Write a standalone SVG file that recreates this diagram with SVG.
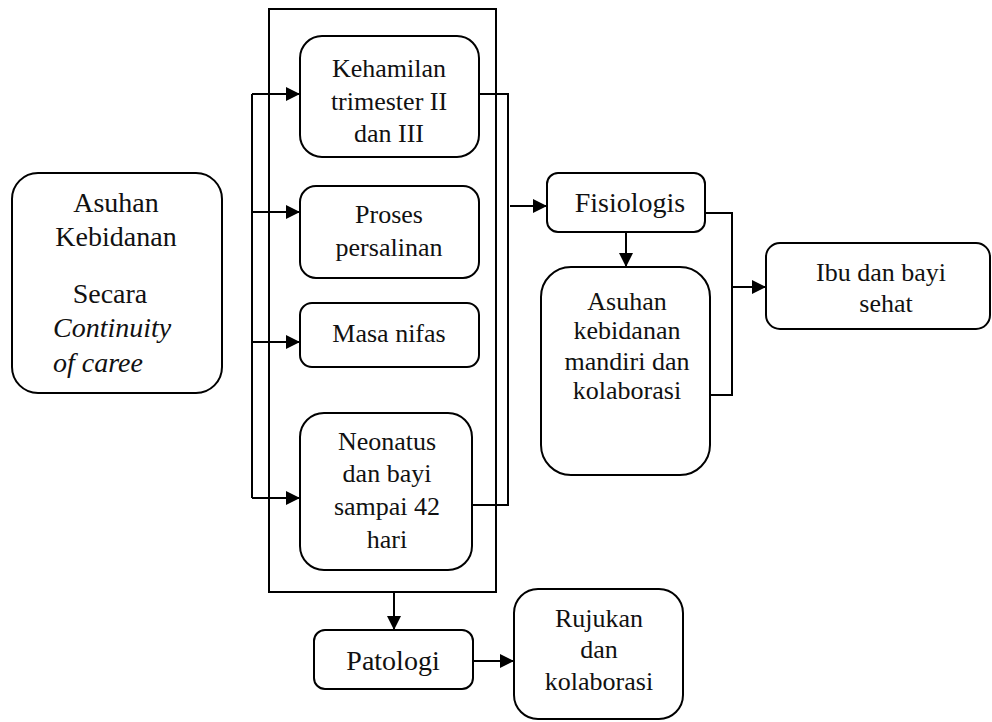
<svg xmlns="http://www.w3.org/2000/svg" width="992" height="722" viewBox="0 0 992 722">
<style>
.box{fill:#fff;stroke:#000;stroke-width:2}
.ln{fill:none;stroke:#000;stroke-width:2}
.t26{font-size:26px}
.t28{font-size:28px}
.it{font-style:italic;text-anchor:start}
</style>
<defs>
<marker id="ah" viewBox="0 0 14 14" refX="14" refY="7" markerWidth="14" markerHeight="14" markerUnits="userSpaceOnUse" orient="auto">
<path d="M0,0 L14,7 L0,14 Z" fill="#000"/>
</marker>
</defs>
<rect width="992" height="722" fill="#fff"/>
<g id="frame"><rect class="ln" x="269" y="9" width="227" height="583"/></g>
<g id="connectors">
<path class="ln" d="M252,498 V94"/>
<path class="ln" d="M252,94 H300" marker-end="url(#ah)"/>
<path class="ln" d="M252,212 H300" marker-end="url(#ah)"/>
<path class="ln" d="M252,342 H300" marker-end="url(#ah)"/>
<path class="ln" d="M252,498 H300" marker-end="url(#ah)"/>
<path class="ln" d="M479,94 H508 V505 H472"/>
<path class="ln" d="M510,206 H547" marker-end="url(#ah)"/>
<path class="ln" d="M626,232 V267" marker-end="url(#ah)"/>
<path class="ln" d="M705,213 H732 V395 H710"/>
<path class="ln" d="M732,287 H766" marker-end="url(#ah)"/>
<path class="ln" d="M394,592 V630" marker-end="url(#ah)"/>
<path class="ln" d="M473,661 H514" marker-end="url(#ah)"/>
</g>
<g font-family="Liberation Serif, Tinos, Times New Roman, serif" fill="#111" text-anchor="middle">
<g id="asuhan">
<rect class="box" x="12" y="173" width="210" height="220" rx="26"/>
<text class="t28" x="116" y="212">Asuhan</text>
<text class="t28" x="116" y="246">Kebidanan</text>
<text class="t28" x="110" y="303">Secara</text>
<text class="t28 it" x="53" y="337">Continuity</text>
<text class="t28 it" x="53" y="372">of caree</text>
</g>
<g id="kehamilan">
<rect class="box" x="300" y="36" width="179" height="121" rx="22"/>
<text class="t26" x="389" y="77">Kehamilan</text>
<text class="t26" x="389" y="110">trimester II</text>
<text class="t26" x="389" y="142">dan III</text>
</g>
<g id="proses">
<rect class="box" x="300" y="186" width="179" height="92" rx="16"/>
<text class="t26" x="389" y="223">Proses</text>
<text class="t26" x="389" y="256">persalinan</text>
</g>
<g id="nifas">
<rect class="box" x="300" y="303" width="179" height="64" rx="12"/>
<text class="t26" x="389" y="342">Masa nifas</text>
</g>
<g id="neonatus">
<rect class="box" x="300" y="413" width="172" height="157" rx="24"/>
<text class="t26" x="387" y="450">Neonatus</text>
<text class="t26" x="387" y="482">dan bayi</text>
<text class="t26" x="387" y="515">sampai 42</text>
<text class="t26" x="387" y="548">hari</text>
</g>
<g id="fisiologis">
<rect class="box" x="547" y="173" width="158" height="59" rx="11"/>
<text class="t28" x="630" y="212">Fisiologis</text>
</g>
<g id="mandiri">
<rect class="box" x="541" y="267" width="169" height="208" rx="30"/>
<text class="t26" x="627" y="310">Asuhan</text>
<text class="t26" x="627" y="339">kebidanan</text>
<text class="t26" x="627" y="370">mandiri dan</text>
<text class="t26" x="627" y="399">kolaborasi</text>
</g>
<g id="ibu">
<rect class="box" x="766" y="243" width="224" height="86" rx="14"/>
<text class="t26" x="881" y="281">Ibu dan bayi</text>
<text class="t26" x="886" y="312">sehat</text>
</g>
<g id="patologi">
<rect class="box" x="314" y="630" width="159" height="59" rx="11"/>
<text class="t28" x="393" y="670">Patologi</text>
</g>
<g id="rujukan">
<rect class="box" x="514" y="589" width="169" height="130" rx="24"/>
<text class="t26" x="599" y="627">Rujukan</text>
<text class="t26" x="599" y="658">dan</text>
<text class="t26" x="599" y="690">kolaborasi</text>
</g>
</g>
</svg>
